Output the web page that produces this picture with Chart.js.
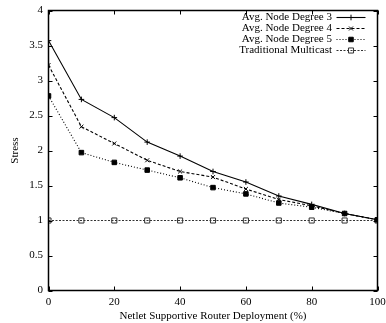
<!DOCTYPE html>
<html><head><meta charset="utf-8">
<script src="https://cdn.jsdelivr.net/npm/chart.js@4/dist/chart.umd.min.js"></script>
<style>html,body{margin:0;padding:0;background:#fff}#wrap{width:386px;height:323px}</style>
</head><body><div id="wrap"><canvas id="c" width="386" height="323"></canvas></div>
<script>
const deployment = [0, 10, 20, 30, 40, 50, 60, 70, 80, 90, 100];
const degree3 = [3.57, 2.73, 2.47, 2.12, 1.92, 1.70, 1.55, 1.35, 1.23, 1.10, 1.01];
const degree4 = [3.22, 2.34, 2.10, 1.86, 1.70, 1.62, 1.45, 1.30, 1.21, 1.10, 1.01];
const degree5 = [2.78, 1.97, 1.83, 1.72, 1.61, 1.47, 1.38, 1.25, 1.19, 1.10, 1.01];
const traditional = [1.0, 1.0, 1.0, 1.0, 1.0, 1.0, 1.0, 1.0, 1.0, 1.0, 1.0];
const seriesLabels = ['Avg. Node Degree 3', 'Avg. Node Degree 4', 'Avg. Node Degree 5', 'Traditional Multicast'];
const xTickLabels = ['0', '20', '40', '60', '80', '100'];
const yTickLabels = ['0', '0.5', '1', '1.5', '2', '2.5', '3', '3.5', '4'];
const xTitle = 'Netlet Supportive Router Deployment (%)';
const yTitle = 'Stress';

const FONT = 'Liberation Serif';
Chart.defaults.font.family = FONT;
Chart.defaults.font.size = 11;
Chart.defaults.color = '#000';

function pts(vals) { return deployment.map((x, i) => ({x: x, y: vals[i]})); }

const styles = [
  {borderDash: [], pointStyle: 'cross', pointRadius: 2.8, bg: '#000', color: '#000'},
  {borderDash: [3, 2], pointStyle: 'crossRot', pointRadius: 2.8, bg: '#000', color: '#000'},
  {borderDash: [1, 2], pointStyle: 'rect', pointRadius: 3.2, bg: '#000', color: '#000'},
  {borderDash: [2, 1.5], pointStyle: 'rect', pointRadius: 3.6, bg: 'rgba(0,0,0,0)', color: '#333'}
];
const seriesData = [degree3, degree4, degree5, traditional];

const datasets = seriesData.map((vals, i) => ({
  label: seriesLabels[i],
  data: pts(vals),
  borderColor: styles[i].color,
  borderWidth: 1.1,
  borderDash: styles[i].borderDash,
  pointStyle: styles[i].pointStyle,
  pointRadius: styles[i].pointRadius,
  pointBorderWidth: 1,
  pointBorderColor: styles[i].color,
  pointBackgroundColor: styles[i].bg,
  backgroundColor: styles[i].bg,
  fill: false,
  tension: 0
}));

const framePlugin = {
  id: 'frame',
  afterDatasetsDraw(chart) {
    const ctx = chart.ctx, a = chart.chartArea;
    const xs = chart.scales.x, ys = chart.scales.y;
    ctx.save();
    ctx.strokeStyle = '#000';
    ctx.lineWidth = 1.5;
    ctx.setLineDash([]);
    ctx.strokeRect(a.left, a.top, a.right - a.left, a.bottom - a.top);
    ctx.lineWidth = 1;
    const L = 4;
    ctx.beginPath();
    ys.ticks.forEach(t => {
      const y = Math.round(ys.getPixelForValue(t.value)) + 0.5;
      ctx.moveTo(a.left, y); ctx.lineTo(a.left + L, y);
      ctx.moveTo(a.right, y); ctx.lineTo(a.right - L, y);
    });
    xs.ticks.forEach(t => {
      const x = Math.round(xs.getPixelForValue(t.value)) + 0.5;
      ctx.moveTo(x, a.bottom); ctx.lineTo(x, a.bottom - L);
      ctx.moveTo(x, a.top); ctx.lineTo(x, a.top + L);
    });
    ctx.stroke();

    // legend (gnuplot style, text right-aligned, sample to the right)
    const textRight = a.right - 45.5;
    const x0 = a.right - 41, x1 = a.right - 12, xm = (x0 + x1) / 2;
    chart.data.datasets.forEach((ds, i) => {
      const y = a.top + 6.8 + i * 11;
      ctx.font = '11px "' + FONT + '"';
      ctx.fillStyle = '#000';
      ctx.textAlign = 'right';
      ctx.textBaseline = 'middle';
      ctx.fillText(ds.label, textRight, y);
      ctx.strokeStyle = ds.borderColor;
      ctx.lineWidth = ds.borderWidth;
      ctx.setLineDash(ds.borderDash || []);
      ctx.beginPath();
      ctx.moveTo(x0, Math.round(y) + 0.5); ctx.lineTo(x1, Math.round(y) + 0.5);
      ctx.stroke();
      ctx.setLineDash([]);
      ctx.fillStyle = ds.pointBackgroundColor;
      ctx.strokeStyle = ds.pointBorderColor;
      ctx.lineWidth = 1;
      Chart.helpers.drawPoint(ctx, {pointStyle: ds.pointStyle, radius: ds.pointRadius, rotation: 0, borderWidth: 1}, xm, Math.round(y) + 0.5);
    });
    ctx.restore();
  }
};

new Chart(document.getElementById('c'), {
  type: 'line',
  data: {datasets: datasets},
  plugins: [framePlugin],
  options: {
    responsive: false,
    animation: false,
    devicePixelRatio: 1,
    layout: {padding: {left: 0, top: 10.5, right: 8.5, bottom: 0}},
    plugins: {legend: {display: false}, tooltip: {enabled: false}},
    elements: {line: {borderJoinStyle: 'miter'}},
    scales: {
      x: {
        type: 'linear', min: 0, max: 100,
        grid: {display: false, drawTicks: false},
        border: {display: false},
        ticks: {stepSize: 20, padding: 5.5, maxRotation: 0, autoSkip: false,
          font: {family: FONT, size: 11},
          callback: (v) => xTickLabels[Math.round(v / 20)]},
        title: {display: true, text: xTitle, font: {family: FONT, size: 11, lineHeight: 1.2}, padding: {top: 0, bottom: 0}},
        afterFit(s) { s.height = 32.5; s.paddingLeft = 0; s.paddingRight = 0; }
      },
      y: {
        type: 'linear', min: 0, max: 4,
        grid: {display: false, drawTicks: false},
        border: {display: false},
        ticks: {stepSize: 0.5, padding: 5.5, autoSkip: false,
          font: {family: FONT, size: 11},
          callback: (v) => yTickLabels[Math.round(v / 0.5)]},
        title: {display: true, text: yTitle, font: {family: FONT, size: 11, lineHeight: 1.2}, padding: {top: 8.5, bottom: 0}},
        afterFit(s) { s.width = 48.5; s.paddingTop = 0; s.paddingBottom = 0; }
      }
    }
  }
});
</script>
</body></html>
